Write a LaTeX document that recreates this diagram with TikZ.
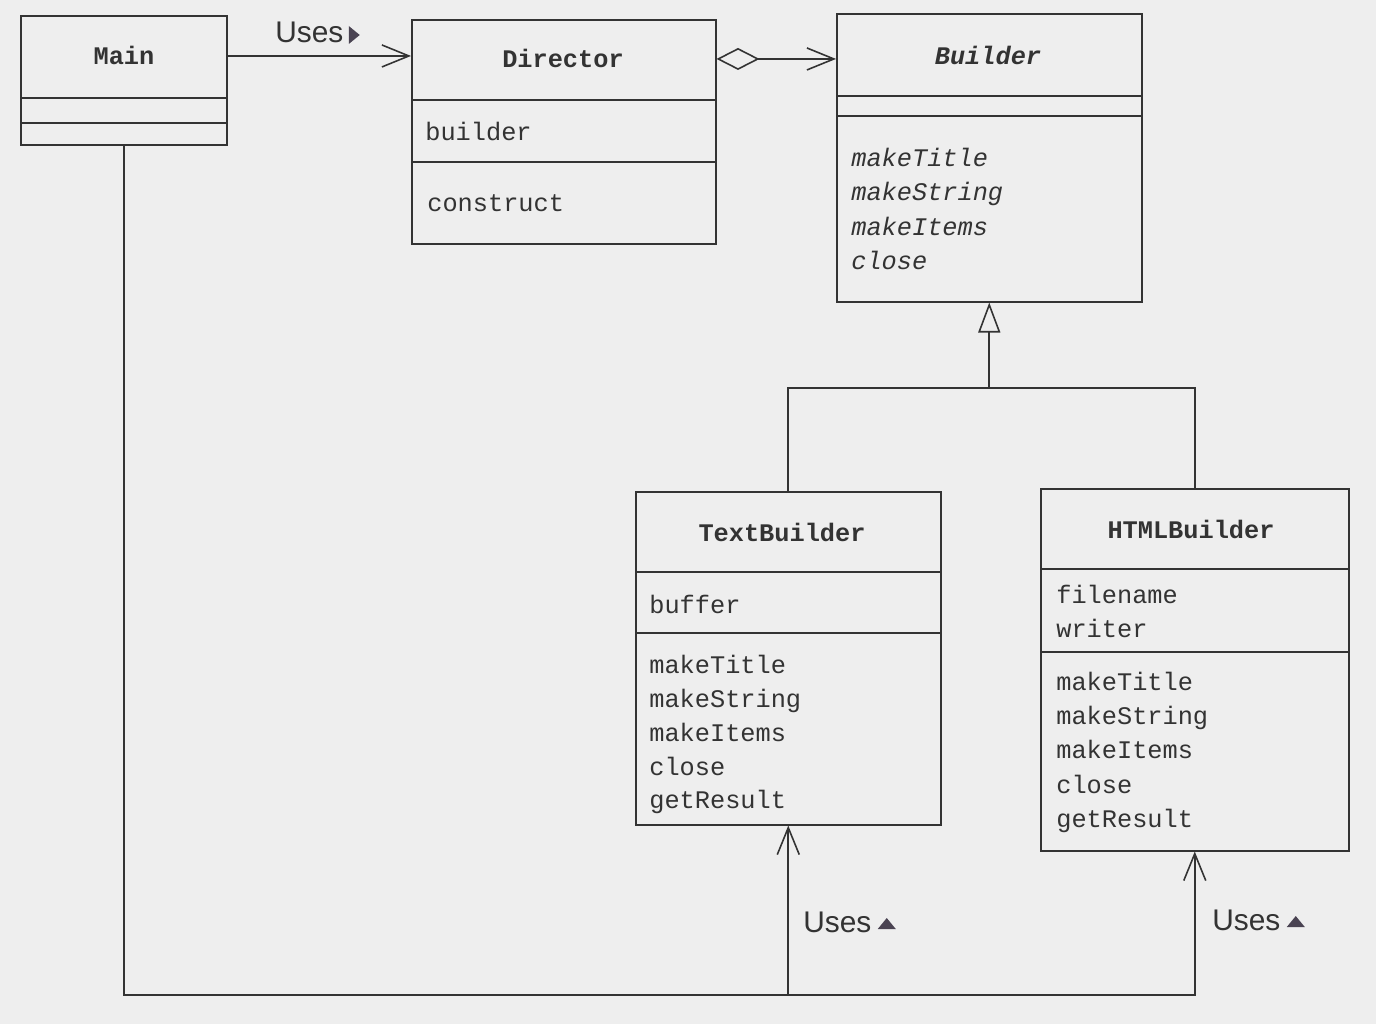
\documentclass[tikz,border=0pt]{standalone}
\usepackage{fontspec}
\setmainfont{Liberation Serif}
\setsansfont{Liberation Sans}
\setmonofont{Liberation Mono}
\usetikzlibrary{arrows.meta,calc}
\definecolor{bg}{HTML}{EEEEEE}
\definecolor{ink}{HTML}{333333}
\definecolor{tri}{HTML}{4A4352}
\begin{document}
\begin{tikzpicture}[x=0.02cm,y=-0.02cm,
  box/.style={draw=ink, line width=0.9pt, rectangle, anchor=north west, inner sep=0pt},
  sep/.style={draw=ink, line width=0.9pt},
  ttl/.style={font=\ttfamily\bfseries\fontsize{14.4}{17}\selectfont, text=ink, anchor=base, inner sep=0pt},
  ttli/.style={font=\ttfamily\bfseries\itshape\fontsize{14.4}{17}\selectfont, text=ink, anchor=base, inner sep=0pt},
  item/.style={font=\ttfamily\fontsize{14.4}{17}\selectfont, text=ink, anchor=base west, inner sep=0pt},
  itemi/.style={font=\ttfamily\itshape\fontsize{14.4}{17}\selectfont, text=ink, anchor=base west, inner sep=0pt},
  uses/.style={font=\sffamily\fontsize{17}{20}\selectfont, text=ink, anchor=base west, inner sep=0pt},
  conn/.style={draw=ink, line width=0.9pt},
  barb/.tip={Straight Barb[length=0.54cm,width=0.44cm]},
  trifill/.style={fill=tri}]
\useasboundingbox[fill=bg] (0,0) rectangle (1376,1024);

% ---- Main ----
\node[box, minimum width=4.12cm, minimum height=2.58cm] (main) at (20,15) {};
\node[ttl] (maint) at (124,65) {Main};
\draw[sep] (20,98) -- (226,98);
\draw[sep] (20,123) -- (226,123);

% ---- Director ----
\node[box, minimum width=6.08cm, minimum height=4.48cm] (dir) at (411,19) {};
\node[ttl] (dirt) at (563,68) {Director};
\draw[sep] (411,100) -- (715,100);
\draw[sep] (411,162) -- (715,162);
\node[item] (dira) at (425,140) {builder};
\node[item] (dirm) at (427,211) {construct};

% ---- Builder ----
\node[box, minimum width=6.1cm, minimum height=5.76cm] (bld) at (836,13) {};
\node[ttli] (bldt) at (988,65) {Builder};
\draw[sep] (836,96) -- (1141,96);
\draw[sep] (836,116) -- (1141,116);
\node[itemi] (bm1) at (851,166) {makeTitle};
\node[itemi] (bm2) at (851,200) {makeString};
\node[itemi] (bm3) at (851,235) {makeItems};
\node[itemi] (bm4) at (851,269) {close};

% ---- TextBuilder ----
\node[box, minimum width=6.1cm, minimum height=6.66cm] (tb) at (635,491) {};
\node[ttl] (tbt) at (782,541) {TextBuilder};
\draw[sep] (635,572) -- (940,572);
\draw[sep] (635,633) -- (940,633);
\node[item] (tba) at (649,613) {buffer};
\node[item] (tm1) at (649,673) {makeTitle};
\node[item] (tm2) at (649,707) {makeString};
\node[item] (tm3) at (649,741) {makeItems};
\node[item] (tm4) at (649,775) {close};
\node[item] (tm5) at (649,808) {getResult};

% ---- HTMLBuilder ----
\node[box, minimum width=6.16cm, minimum height=7.24cm] (hb) at (1040,488) {};
\node[ttl] (hbt) at (1191,538) {HTMLBuilder};
\draw[sep] (1040,569) -- (1348,569);
\draw[sep] (1040,652) -- (1348,652);
\node[item] (ha1) at (1056,603) {filename};
\node[item] (ha2) at (1056,637) {writer};
\node[item] (hm1) at (1056,690) {makeTitle};
\node[item] (hm2) at (1056,724) {makeString};
\node[item] (hm3) at (1056,758) {makeItems};
\node[item] (hm4) at (1056,793) {close};
\node[item] (hm5) at (1056,827) {getResult};

% ---- Connectors ----
\draw[conn, -barb] (main.east |- maint) -- (dir.west |- maint);
\node[uses] (u1) at (275,43) {Uses};
\fill[trifill] ($(u1.base east)+(5,-17)$) -- ++(11,9) -- ++(-11,9) -- cycle;

\draw[conn, {Diamond[open,length=0.86cm,width=0.44cm]}-barb] (dir.east |- dirt) -- (bld.west |- dirt);

\coordinate (jy) at (0,388);
\coordinate (j) at (bld.south |- jy);
\draw[conn] (tb.north) |- (j) -| (hb.north);
\draw[conn, -{Triangle[open,length=0.6cm,width=0.44cm]}] (j) -- (bld.south);

\coordinate (by) at (0,995);
\draw[conn, -barb] (main.south) |- (hb.south |- by) -- (hb.south);
\draw[conn, -barb] (tb.south |- by) -- (tb.south);

\node[uses] (u2) at (803,932) {Uses};
\fill[trifill] ($(u2.base east)+(6,-3)$) -- ++(18,0) -- ++(-9,-11) -- cycle;
\node[uses] (u3) at (1212,930) {Uses};
\fill[trifill] ($(u3.base east)+(6,-3)$) -- ++(18,0) -- ++(-9,-11) -- cycle;
\end{tikzpicture}
\end{document}
